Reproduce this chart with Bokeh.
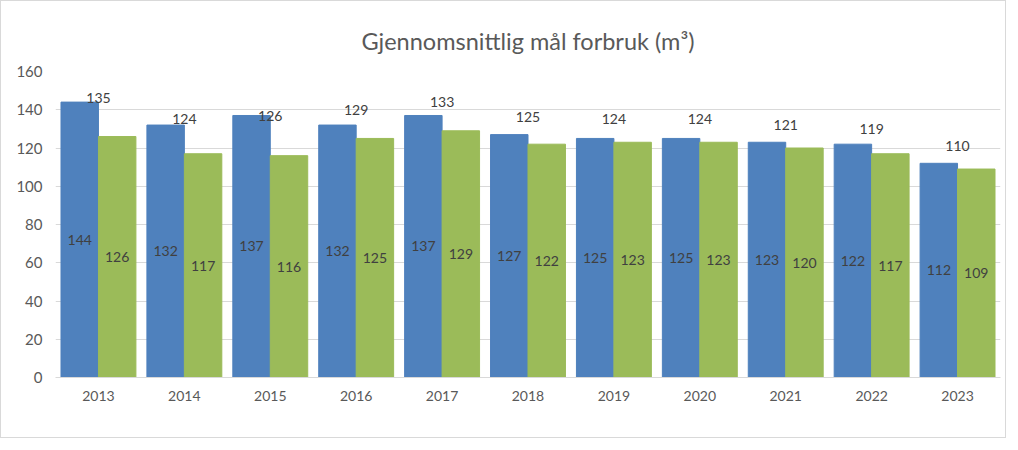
from bokeh.plotting import figure
from bokeh.models import ColumnDataSource, Legend, LegendItem, Title, FactorRange, Range1d, SingleIntervalTicker
from bokeh.transform import dodge
from bokeh.core.properties import value
from bokeh.embed import file_html
from bokeh.resources import INLINE

years = ["2013", "2014", "2015", "2016", "2017", "2018", "2019", "2020", "2021", "2022", "2023"]
vann = [144, 132, 137, 132, 137, 127, 125, 125, 123, 122, 112]
avlop = [126, 117, 116, 125, 129, 122, 123, 123, 120, 117, 109]
snitt = [135, 124, 126, 129, 133, 125, 124, 124, 121, 119, 110]

FONT = "Lato"
TXT = "#595959"
LBL = "#404040"
BLUE = "#4F81BD"
GREEN = "#9BBB59"

src = ColumnDataSource(dict(
    year=years,
    vann=vann,
    avlop=avlop,
    snitt=snitt,
    vann_mid=[v / 2 for v in vann],
    avlop_mid=[v / 2 for v in avlop],
    vann_txt=[str(v) for v in vann],
    avlop_txt=[str(v) for v in avlop],
    snitt_txt=[str(v) for v in snitt],
))

p = figure(x_range=FactorRange(*years, range_padding=0), y_range=Range1d(0, 160),
           width=1006, height=438, output_backend="svg", toolbar_location=None,
           min_border_left=54, min_border_right=7, min_border_top=70, min_border_bottom=62)
p.styles = {"border": "1px solid #d9d9d9"}
p.outline_line_color = None
p.background_fill_color = "white"

w = 0.436
rb = p.vbar(x=dodge("year", -w / 2, range=p.x_range), top="vann", width=w, source=src,
            fill_color=BLUE, line_color=BLUE)
rg = p.vbar(x=dodge("year", w / 2, range=p.x_range), top="avlop", width=w, source=src,
            fill_color=GREEN, line_color=GREEN)

p.text(x=dodge("year", -w / 2, range=p.x_range), y="vann_mid", text="vann_txt", source=src,
       text_align="center", text_baseline="middle", text_font=value(FONT),
       text_font_size="14px", text_color=LBL)
p.text(x=dodge("year", w / 2, range=p.x_range), y="avlop_mid", text="avlop_txt", source=src,
       text_align="center", text_baseline="middle", text_font=value(FONT),
       text_font_size="14px", text_color=LBL)
p.text(x="year", y="snitt", text="snitt_txt", source=src, y_offset=-21,
       text_align="center", text_baseline="middle", text_font=value(FONT),
       text_font_size="14px", text_color=LBL)

p.add_layout(Title(text="Gjennomsnittlig mål forbruk (m³)", align="center",
                   text_font=FONT, text_font_size="23.5px", text_font_style="normal",
                   text_color=TXT, standoff=34), "above")

p.yaxis.ticker = SingleIntervalTicker(interval=20)
p.yaxis.axis_line_color = None
p.yaxis.major_tick_line_color = None
p.yaxis.minor_tick_line_color = None
p.yaxis.major_label_text_font = FONT
p.yaxis.major_label_text_font_size = "15px"
p.yaxis.major_label_text_color = TXT
p.yaxis.major_label_standoff = 7

p.xaxis.axis_line_color = "#d9d9d9"
p.xaxis.major_tick_line_color = None
p.xaxis.minor_tick_line_color = None
p.xaxis.major_label_text_font = FONT
p.xaxis.major_label_text_font_size = "14px"
p.xaxis.major_label_text_color = TXT
p.xaxis.major_label_standoff = 7

p.xgrid.grid_line_color = None
p.ygrid.grid_line_color = "#d9d9d9"

legend = Legend(items=[LegendItem(label="Vann", renderers=[rb]),
                       LegendItem(label="Avløp", renderers=[rg])],
                orientation="horizontal", location=(396, -57),
                label_text_font=FONT, label_text_font_size="13px", label_text_color=TXT,
                glyph_width=8, glyph_height=8, spacing=8, label_standoff=3,
                border_line_color=None, background_fill_alpha=0, padding=2, margin=0)
p.add_layout(legend)

open("out.html", "w").write(file_html(p, INLINE))
